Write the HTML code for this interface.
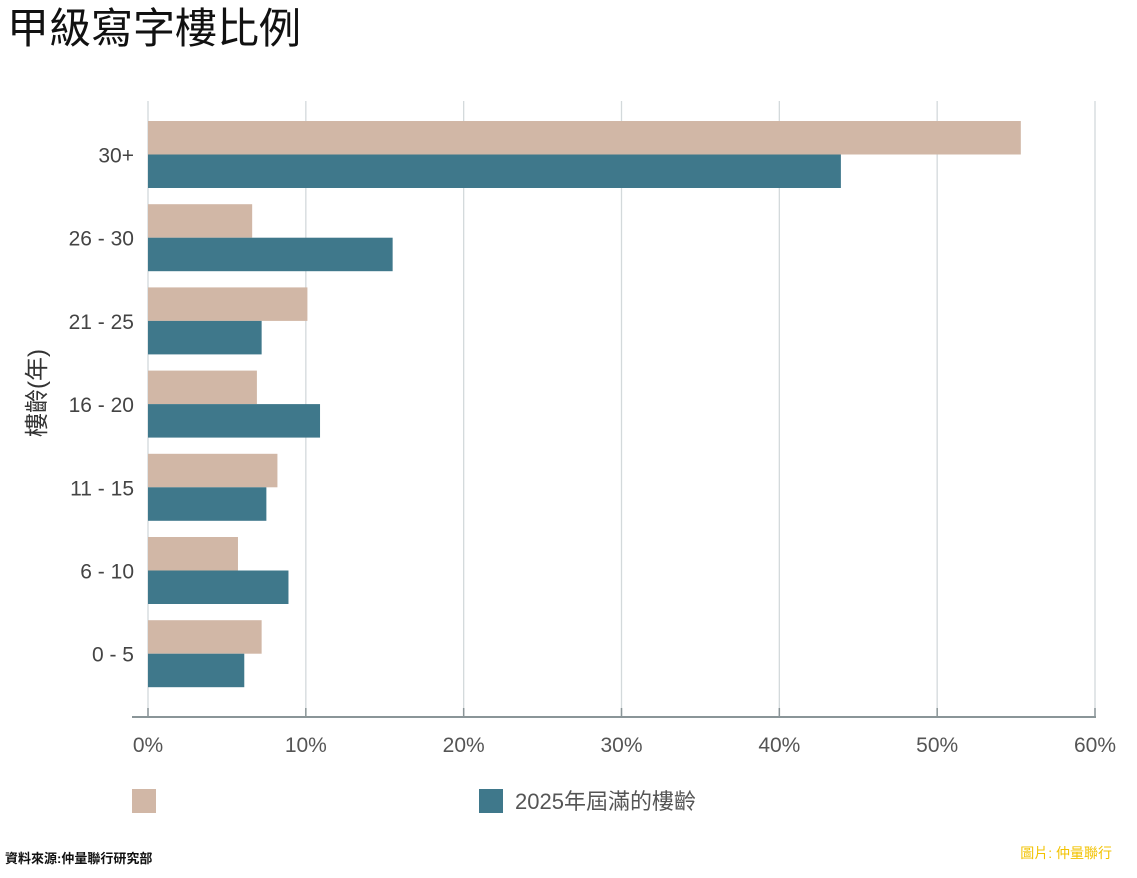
<!DOCTYPE html>
<html><head><meta charset="utf-8">
<style>
body{margin:0;background:#fff;width:1137px;height:878px;overflow:hidden;font-family:"Liberation Sans","Noto Sans CJK TC",sans-serif;}
</style></head>
<body>
<svg id="chart" width="1137" height="878" xmlns="http://www.w3.org/2000/svg" style="display:block">
<text x="7" y="43" font-size="42" fill="#111" font-family="Liberation Sans, Noto Sans CJK TC, sans-serif">甲級寫字樓比例</text>
<g id="grid"></g>
<g id="bars"></g>
<g id="ylabels"></g>
<g id="xlabels"></g>
<line x1="132" y1="717" x2="1096" y2="717" stroke="#8a9598" stroke-width="2"/>
<text transform="translate(45,393) rotate(-90)" text-anchor="middle" font-size="24" fill="#333" font-family="Liberation Sans, Noto Sans CJK TC, sans-serif">樓齡(年)</text>
<rect x="132" y="789" width="24" height="24" fill="#d1b7a6"/>
<rect x="479" y="789" width="24" height="24" fill="#3f788b"/>
<text x="515" y="809" font-size="22" fill="#555" font-family="Liberation Sans, Noto Sans CJK TC, sans-serif">2025年屆滿的樓齡</text>
<text x="5" y="863" font-size="13" font-weight="bold" fill="#111" font-family="Liberation Sans, Noto Sans CJK TC, sans-serif">資料來源:仲量聯行研究部</text>
<text x="1112" y="858" text-anchor="end" font-size="14" fill="#f2c200" font-family="Liberation Sans, Noto Sans CJK TC, sans-serif">圖片: 仲量聯行</text>
</svg>
<script>
const categories=["30+","26 - 30","21 - 25","16 - 20","11 - 15","6 - 10","0 - 5"];
const seriesTan=[55.3,6.6,10.1,6.9,8.2,5.7,7.2];
const seriesTeal=[43.9,15.5,7.2,10.9,7.5,8.9,6.1];
const xTicks=[0,10,20,30,40,50,60];
const xTickLabels=["0%","10%","20%","30%","40%","50%","60%"];
const NS="http://www.w3.org/2000/svg";
const x0=148,x1=1095,xMax=60;
function xs(v){return x0+(v/xMax)*(x1-x0);}
const top0=121,pitch=83.2,bh=33.5;
function ys(i){return top0+i*pitch;}
function mk(tag,attrs,parent){const e=document.createElementNS(NS,tag);for(const k in attrs)e.setAttribute(k,attrs[k]);parent.appendChild(e);return e;}
const grid=document.getElementById('grid'),bars=document.getElementById('bars'),yl=document.getElementById('ylabels'),xl=document.getElementById('xlabels');
xTicks.forEach((t,i)=>{
  const l=mk('line',{x1:xs(t),x2:xs(t),y1:101,y2:717,stroke:'#d3d9db','stroke-width':1.3},grid);
  
  
  const tk=mk('line',{x1:xs(t),x2:xs(t),y1:708,y2:717,stroke:'#8a9598','stroke-width':1.5},grid);
  
  
  const tx=mk('text',{x:xs(t),y:752,'text-anchor':'middle','font-size':21,fill:'#555'},xl);
  tx.textContent=xTickLabels[i];
  
  
});
categories.forEach((c,i)=>{
  const y=ys(i);
  const a=mk('rect',{x:x0,y:y,width:xs(seriesTan[i])-x0,height:bh,fill:'#d1b7a6'},bars);
  
  
  const b=mk('rect',{x:x0,y:y+bh,width:xs(seriesTeal[i])-x0,height:bh,fill:'#3f788b'},bars);
  
  
  const t=mk('text',{x:134,y:y+bh+8,'text-anchor':'end','font-size':21,fill:'#444'},yl);
  t.textContent=c;
  
  
});
</script>
</body></html>
